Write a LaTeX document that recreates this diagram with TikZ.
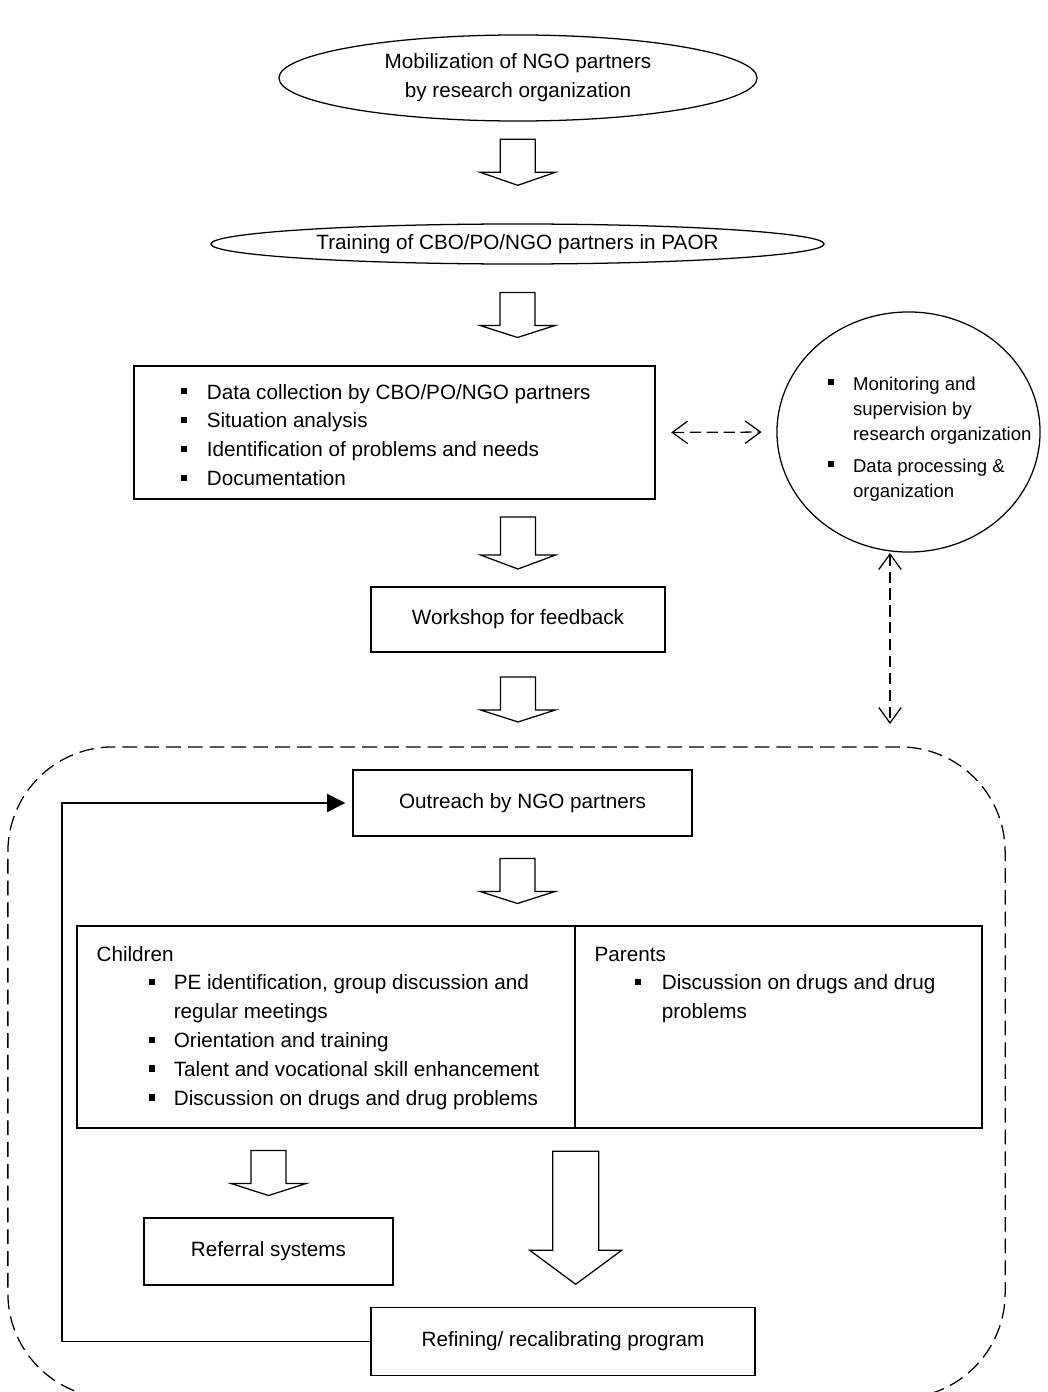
\documentclass[tikz,border=0pt]{standalone}
\usepackage{fontspec}
\setmainfont{Liberation Sans}
\usetikzlibrary{shapes.geometric, arrows.meta, calc}

\newcommand{\sqbul}{\rule[0.12cm]{0.165cm}{0.165cm}}

\begin{document}
\begin{tikzpicture}[x=0.025cm, y=-0.025cm, line width=0.9pt,
    txt/.style={font=\fontsize{14.7}{20.6}\selectfont, inner sep=0pt},
    box/.style={draw, txt},
    oval/.style={draw, ellipse, txt, align=center},
    list/.style={txt, anchor=base west},
    dashlink/.style={dash pattern=on 8pt off 4pt, {Straight Barb[length=11pt,width=16pt]}-{Straight Barb[length=11pt,width=16pt]}},
    feedback/.style={-{Triangle[length=13pt,width=13pt]}, shorten >=5pt},
    pics/fatarrow/.style args={#1/#2/#3/#4}{code={
        \draw[fill=white, line join=miter] (-#1,-#3/2) -- (#1,-#3/2) -- (#1,#3/2-#4) -- (#2,#3/2-#4)
            -- (0,#3/2) -- (-#2,#3/2-#4) -- (-#1,#3/2-#4) -- cycle;
    }},
]

    \useasboundingbox (0,0) rectangle (1047,1392);

    % Top of the chain
    \node[oval, minimum width=11.95cm, minimum height=2.15cm] (mob) at (518,78)
        {Mobilization of NGO partners\\by research organization};
    \node[oval, minimum width=15.325cm, minimum height=1cm] (train) at (517.5,244)
        {Training of CBO/PO/NGO partners in PAOR};

    % Data collection
    \node[box, minimum width=13.025cm, minimum height=3.325cm] (collect) at (394.5,432.5) {};
    \node[list] (collecttxt) at (180,399) {\begin{tabular}[t]{@{}l@{\hspace{0.49cm}}l@{}}
        \sqbul & Data collection by CBO/PO/NGO partners\\
        \sqbul & Situation analysis\\
        \sqbul & Identification of problems and needs\\
        \sqbul & Documentation
    \end{tabular}};

    % Monitoring by research organization
    \node[draw, ellipse, inner sep=0pt, minimum width=6.575cm, minimum height=6cm] (mon) at (908.5,432) {};
    \node[list, font=\fontsize{13.2}{17.8}\selectfont] (montxt) at (827,390) {\begin{tabular}[t]{@{}l@{\hspace{0.47cm}}l@{}}
        \sqbul & Monitoring and\\
        & supervision by\\
        & research organization\\[5pt]
        \sqbul & Data processing \&\\
        & organization
    \end{tabular}};

    \node[box, minimum width=7.35cm, minimum height=1.625cm] (workshop) at (518,619.5) {Workshop for feedback};

    % Outreach phase
    \node[draw, dash pattern=on 10.5pt off 5pt, rounded corners=2.625cm,
        minimum width=24.925cm, minimum height=16.275cm] (phase) at (506.5,1072.5) {};
    \node[box, minimum width=8.475cm, minimum height=1.65cm] (outreach) at (522.5,803) {Outreach by NGO partners};

    % Children and parents
    \node[box, minimum width=12.45cm, minimum height=5.05cm] (kids) at (326,1027) {};
    \node[box, minimum width=10.175cm, minimum height=5.05cm] (parents) at (778.5,1027) {};
    \node[list] (kidstxt) at (96,961) {\begin{tabular}[t]{@{\hspace{1.3cm}}l@{\hspace{0.465cm}}l@{}}
        \multicolumn{2}{@{}l@{}}{Children}\\
        \sqbul & PE identification, group discussion and\\
        & regular meetings\\
        \sqbul & Orientation and training\\
        \sqbul & Talent and vocational skill enhancement\\
        \sqbul & Discussion on drugs and drug problems
    \end{tabular}};
    \node[list] (parentstxt) at (594,961) {\begin{tabular}[t]{@{\hspace{1cm}}l@{\hspace{0.515cm}}l@{}}
        \multicolumn{2}{@{}l@{}}{Parents}\\
        \sqbul & Discussion on drugs and drug\\
        & problems
    \end{tabular}};

    \node[box, minimum width=6.225cm, minimum height=1.675cm] (referral) at (268.5,1251.5) {Referral systems};
    \node[box, minimum width=9.6cm, minimum height=1.7cm] (refine) at (563,1341.5) {Refining/ recalibrating program};

    % Block arrows
    \pic at ($(mob.south)!0.4!(train.north)$) {fatarrow=17.5/37.5/46/13};
    \pic at ($(train.south)!0.5!(collect.north -| train.south)$) {fatarrow=17.5/37.5/45/12};
    \pic at ($(collect.south -| workshop.north)!0.5!(workshop.north)$) {fatarrow=17.5/37.5/52/14};
    \pic at ($(workshop.south)!0.5!(workshop.south |- phase.north)$) {fatarrow=17.5/37.5/45/12};
    \pic at ($(outreach.south -| train.south)!0.5!(kids.north -| train.south)$) {fatarrow=17.5/37.5/45/12};
    \pic at ($(kids.south -| referral.north)!0.5!(referral.north)$) {fatarrow=17.5/37.5/45/12};
    \pic at ($(kids.south east)!0.5!(kids.south east |- refine.north)$) {fatarrow=23/46/133/34};

    % Links to monitoring
    \draw[dashlink, shorten <=11pt, shorten >=10.5pt] (collect.east) -- (mon.west);
    \coordinate (montop) at (890,553);
    \coordinate (phasetop) at (890,724);
    \draw[dashlink] (montop) -- (phasetop);

    % Feedback loop
    \coordinate (back) at (62,1341.5);
    \draw[feedback] (refine.west) -- (back) |- (outreach.west);

\end{tikzpicture}
\end{document}
